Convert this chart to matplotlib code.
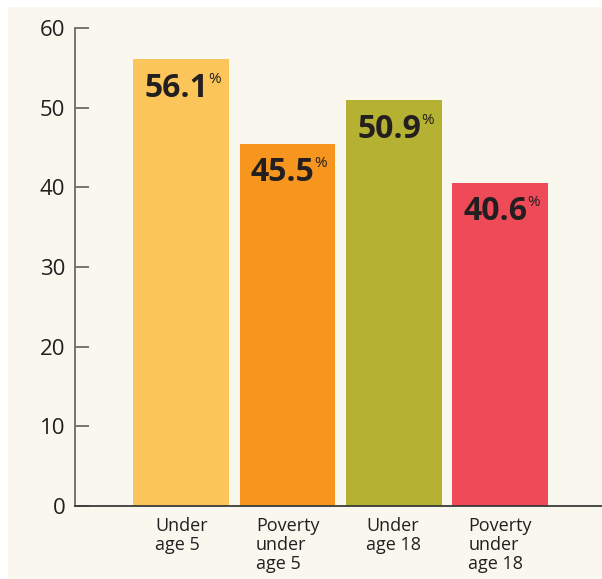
import matplotlib
matplotlib.use("Agg")
import matplotlib.pyplot as plt
from matplotlib.patches import Rectangle

plt.rcParams['font.family'] = ['Open Sans', 'DejaVu Sans']

# data
categories = ["Under\nage 5", "Poverty\nunder\nage 5", "Under\nage 18", "Poverty\nunder\nage 18"]
values = [56.1, 45.5, 50.9, 40.6]
value_labels = ["56.1", "45.5", "50.9", "40.6"]
colors = ["#FCC55A", "#F7961E", "#B5B132", "#EE4A57"]
yticks = [0, 10, 20, 30, 40, 50, 60]

W, H = 602, 579
fig = plt.figure(figsize=(W / 100, H / 100), dpi=100)
fig.patch.set_facecolor("white")
# cream panel
fig.patches.append(Rectangle((8 / W, 0), 1 - 8 / W, 1 - 7 / H, transform=fig.transFigure,
                             facecolor="#FAF7EE", edgecolor="none", zorder=-1))

ax = fig.add_axes([75 / W, (H - 506) / H, 1 - 75 / W, (506 - 28) / H])
ax.set_facecolor("none")

x = list(range(len(values)))
bars = ax.bar(x, values, width=0.9, color=colors, zorder=2)
ax.set_xlim(-1.0, 3.96)
ax.set_ylim(0, 60)

ax.set_yticks(yticks)
ax.set_xticks([])
ax.tick_params(axis="y", direction="in", length=10, width=1.3, color="#6b6b6b",
               labelsize=16, labelcolor="#231F20", pad=7)
for s in ["top", "right"]:
    ax.spines[s].set_visible(False)
ax.spines["left"].set_color("#6b6b6b")
ax.spines["left"].set_linewidth(1.3)
ax.spines["bottom"].set_color("#3a3a3a")
ax.spines["bottom"].set_linewidth(1.3)

txt_color = "#231F20"
for b, lab, cat in zip(bars, value_labels, categories):
    num = ax.annotate(lab, xy=(b.get_x(), b.get_height()), xytext=(8, -9),
                      textcoords="offset points", ha="left", va="top",
                      fontsize=23, fontweight="bold", color=txt_color, zorder=3)
    ax.annotate("%", xy=(1, 1), xycoords=num, xytext=(0, 0),
                textcoords="offset points", ha="left", va="top",
                fontsize=11, color=txt_color, zorder=3)
    ax.annotate(cat, xy=(b.get_x() + b.get_width() / 2, 0), xytext=(0, -8),
                textcoords="offset points", ha="center", va="top",
                multialignment="left", fontsize=13, linespacing=1.08,
                color=txt_color, annotation_clip=False)

fig.savefig("out.png", dpi=100)
